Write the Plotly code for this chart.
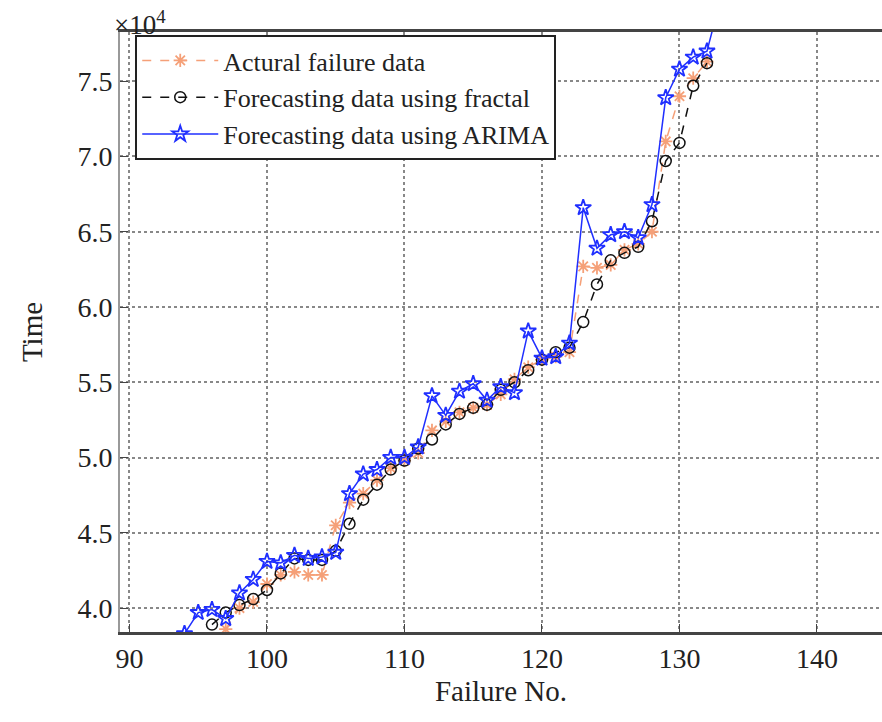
import plotly.graph_objects as go

# Failure numbers for each series
actual_x = list(range(97, 133))
fractal_x = list(range(96, 133))
arima_x = list(range(94, 134))

# Time values (in units of 10^4)
actual_y = [3.86, 4.00, 4.04, 4.16, 4.22, 4.24, 4.22, 4.22, 4.55, 4.70,
            4.76, 4.85, 4.93, 4.98, 5.03, 5.18, 5.24, 5.30, 5.33, 5.35,
            5.42, 5.52, 5.60, 5.65, 5.67, 5.70, 6.27, 6.26, 6.28, 6.38,
            6.42, 6.50, 7.10, 7.40, 7.52, 7.63]
fractal_y = [3.89, 3.97, 4.02, 4.06, 4.12, 4.23, 4.33, 4.32, 4.32, 4.38,
             4.56, 4.72, 4.82, 4.92, 4.98, 5.06, 5.12, 5.22, 5.29, 5.33,
             5.35, 5.45, 5.50, 5.58, 5.65, 5.70, 5.73, 5.90, 6.15, 6.31,
             6.36, 6.40, 6.57, 6.97, 7.09, 7.47, 7.62]
arima_y = [3.83, 3.97, 3.99, 3.93, 4.10, 4.19, 4.31, 4.30, 4.35, 4.33,
           4.34, 4.37, 4.76, 4.89, 4.92, 5.00, 5.00, 5.07, 5.41, 5.28,
           5.44, 5.49, 5.38, 5.47, 5.43, 5.84, 5.66, 5.67, 5.76, 6.66,
           6.39, 6.48, 6.50, 6.46, 6.68, 7.39, 7.58, 7.66, 7.70, 8.05]

SCALE = 1e4
y_ticks = [4.0, 4.5, 5.0, 5.5, 6.0, 6.5, 7.0, 7.5]
y_tick_text = ["4.0", "4.5", "5.0", "5.5", "6.0", "6.5", "7.0", "7.5"]
names = ["Actural failure data", "Forecasting data using fractal",
         "Forecasting data using ARIMA"]

FONT = "Liberation Serif, Times New Roman, serif"

fig = go.Figure()
fig.add_trace(go.Scatter(
    x=actual_x, y=[v * SCALE for v in actual_y], name=names[0],
    mode="lines+markers",
    line=dict(color="#f5a078", width=1.5, dash="dash"),
    marker=dict(symbol="asterisk-open", size=11,
                line=dict(color="#ff5a1e", width=1.8)),
))
fig.add_trace(go.Scatter(
    x=fractal_x, y=[v * SCALE for v in fractal_y], name=names[1],
    mode="lines+markers",
    line=dict(color="#111111", width=1.5, dash="dash"),
    marker=dict(symbol="circle-open", size=11, color="#111111",
                line=dict(color="#111111", width=1.5)),
))
fig.add_trace(go.Scatter(
    x=arima_x, y=[v * SCALE for v in arima_y], name=names[2],
    mode="lines+markers",
    line=dict(color="#1f2fff", width=1.5),
    marker=dict(symbol="star-open", size=12, color="#1f2fff",
                line=dict(color="#1f2fff", width=1.8)),
))

fig.update_layout(
    width=882, height=722,
    margin=dict(l=120, r=0, t=32, b=90),
    paper_bgcolor="white", plot_bgcolor="white",
    font=dict(family=FONT, size=26, color="#222"),
    showlegend=True,
    legend=dict(
        x=0.02, y=0.995, xanchor="left", yanchor="top",
        bgcolor="white", bordercolor="#222", borderwidth=2,
        font=dict(family=FONT, size=26, color="#222"),
        itemwidth=76, tracegroupgap=0,
    ),
    xaxis=dict(
        range=[89.31, 144.73], tick0=90, dtick=10,
        showline=True, linecolor="#444", linewidth=2.5, mirror=True,
        ticks="inside", ticklen=8, tickcolor="#444",
        showgrid=True, gridcolor="#888", griddash="dot", gridwidth=1.5,
        zeroline=False,
        tickfont=dict(family=FONT, size=28, color="#222"),
        title=dict(text="Failure No.", font=dict(family=FONT, size=29, color="#222"),
                   standoff=8),
    ),
    yaxis=dict(
        range=[3.841 * SCALE, 7.827 * SCALE],
        tickvals=[t * SCALE for t in y_ticks], ticktext=y_tick_text,
        showline=True, linecolor="#999", linewidth=2, mirror=False,
        ticks="inside", ticklen=8, tickcolor="#444",
        showgrid=True, gridcolor="#888", griddash="dot", gridwidth=1.5,
        zeroline=False,
        tickfont=dict(family=FONT, size=28, color="#222"),
        title=dict(text="Time", font=dict(family=FONT, size=29, color="#222"),
                   standoff=26),
    ),
)

fig.add_annotation(
    xref="paper", yref="paper", x=0.0, y=1.0, xanchor="left", yanchor="bottom",
    text="×10<sup>4</sup>", showarrow=False, xshift=-8, yshift=-10,
    font=dict(family=FONT, size=27, color="#222"),
)

fig.write_html("out.html")
